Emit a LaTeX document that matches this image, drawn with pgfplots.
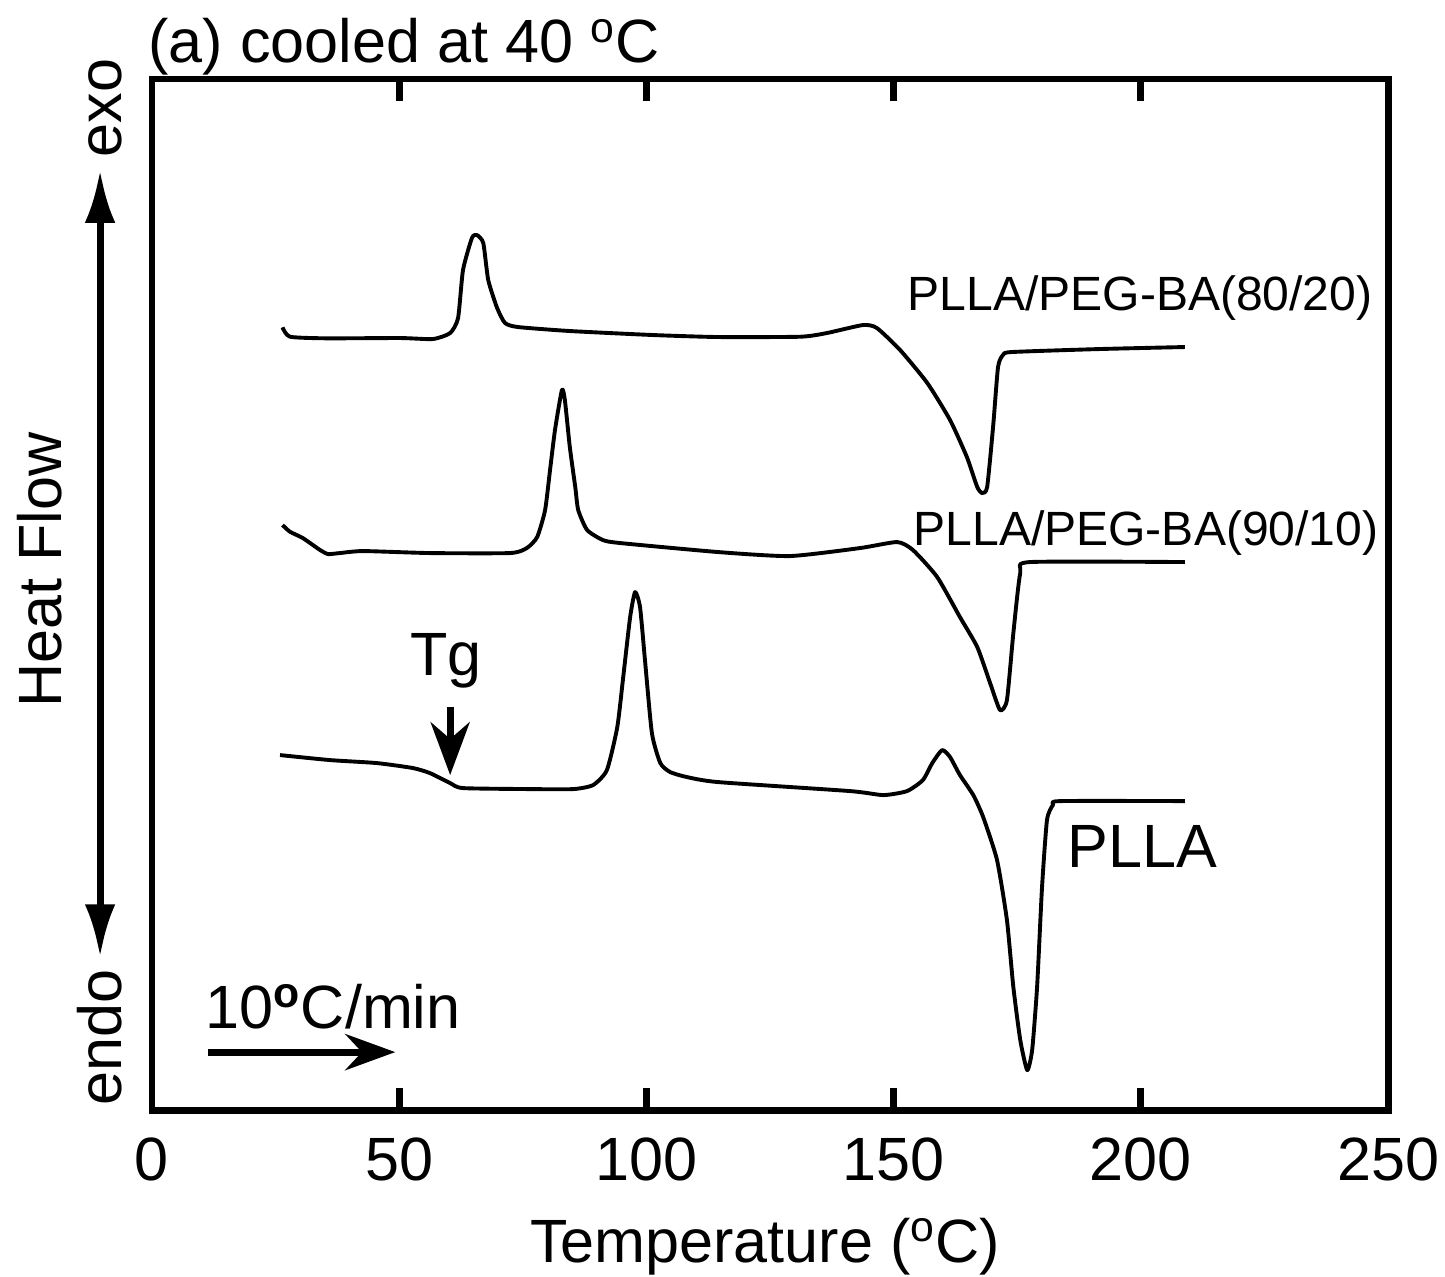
\documentclass[border=0pt]{standalone}
\usepackage{pgfplots}
\pgfplotsset{compat=1.18}
\usepackage{fontspec}
\setmainfont{Liberation Sans}
\usetikzlibrary{arrows.meta}
\begin{document}
\begin{tikzpicture}
\begin{axis}[
  scale only axis,
  width=444.96pt, height=371.16pt,
  xmin=0, xmax=250, ymin=0, ymax=1031,
  xtick={0,50,100,150,200,250},
  ytick=\empty,
  xtick pos=both,
  xticklabel pos=lower,
  tick align=inside,
  major tick length=8pt,
  every tick/.style={line width=2.5pt, black},
  axis line style={line width=2.5pt},
  /pgf/number format/assume math mode=true,
  xticklabel style={font=\fontsize{22}{26}\selectfont, yshift=-6.6pt},
  clip=false,
]
\addplot[black, line width=1.4pt, line join=round, smooth, tension=0.35] coordinates {
(26.4,782.7) (27.9,773.3) (35.3,771.7) (50.2,772) (56.8,771) (60.3,777)
(61.9,792) (62.9,840) (64.7,872) (65.7,875) (67.0,867) (68.0,830)
(69.8,802) (71.4,787) (74.0,783) (84.5,779) (101.3,775) (114.5,773)
(131.1,773.3) (136.5,777) (143.8,785) (146.6,782) (151.3,760) (156.8,727)
(161.4,690) (164.8,653) (166.9,623) (167.9,617) (168.9,623) (170.1,683)
(171.1,743) (172.1,755) (173.9,758) (191.7,761) (208.9,763)
};
\addplot[black, line width=1.4pt, line join=round, smooth, tension=0.35] coordinates {
(26.4,585) (27.9,578.3) (30.5,572) (34.0,560) (35.6,556) (38.0,557)
(42.7,559) (56.2,557) (72.4,557) (75.8,562) (77.9,573) (79.5,600)
(80.5,640) (81.5,680) (82.9,720) (83.5,710) (84.5,663) (85.6,623)
(86.2,600) (88.0,580) (91.2,570) (94.7,567) (114.5,558) (129.0,554)
(143.2,562) (150.7,568) (153.9,560) (158.8,533) (163.4,493) (166.9,463)
(169.5,427) (171.5,400) (172.9,410) (174.2,477) (175.6,537) (177.6,548)
(208.9,548)
};
\addplot[black, line width=1.4pt, line join=round, smooth, tension=0.35] coordinates {
(25.9,355) (36.0,350) (45.5,347) (52.8,342) (56.2,337) (60.3,327)
(62.9,322) (76.5,321) (85.2,321) (89.2,325) (92.0,340) (94.1,383)
(95.3,433) (96.7,493) (97.7,518) (98.7,503) (99.7,450) (101.1,377)
(102.8,347) (104.8,338) (108.2,333) (114.5,328) (141.2,319) (147.9,315)
(152.7,319) (155.9,330) (157.8,347) (159.8,360) (161.4,353) (163.4,335)
(166.1,315) (168.1,293) (170.9,250) (172.9,190) (174.2,123) (175.6,70)
(177.0,40) (178.0,60) (179.0,123) (180.0,223) (181.0,290) (182.2,305)
(183.7,309) (208.9,309)
};
\node[anchor=base west, font=\fontsize{22}{26}\selectfont, inner sep=0pt] at (axis cs:-0.8,1047) {(a) cooled at 40 \textsuperscript{o}C};
\node[rotate=90, font=\fontsize{22}{26}\selectfont, inner sep=0pt] at (axis cs:-22.7,540) {Heat Flow};
\node[rotate=90, font=\fontsize{22}{26}\selectfont, inner sep=0pt] at (axis cs:-9.5,1002) {exo};
\node[rotate=90, font=\fontsize{22}{26}\selectfont, inner sep=0pt] at (axis cs:-10.5,73) {endo};
\draw[line width=2.5pt, {Latex[length=19pt,width=11pt]}-{Latex[length=19pt,width=11pt]}] (axis cs:-10.5,940) -- (axis cs:-10.5,153);
\node[anchor=base, font=\fontsize{22}{26}\selectfont, inner sep=0pt] at (axis cs:59.4,435) {Tg};
\draw[line width=2.5pt, -{Stealth[length=19pt,width=14pt,inset=6pt]}] (axis cs:60.3,403) -- (axis cs:60.3,335);
\node[anchor=base west, font=\fontsize{22}{26}\selectfont, inner sep=0pt] at (axis cs:10.7,82) {10\textsuperscript{\textbf{o}}C/min};
\draw[line width=2.5pt, -{Stealth[length=18pt,width=13pt,inset=6pt]}] (axis cs:11.3,58) -- (axis cs:49.2,58);
\node[anchor=base west, font=\fontsize{17.3}{21}\selectfont, inner sep=0pt] at (axis cs:152.7,800) {PLLA/PEG-BA(80/20)};
\node[anchor=base west, font=\fontsize{17.3}{21}\selectfont, inner sep=0pt] at (axis cs:153.9,565) {PLLA/PEG-BA(90/10)};
\node[anchor=base west, font=\fontsize{22}{26}\selectfont, inner sep=0pt] at (axis cs:185.1,243) {PLLA};
\node[anchor=base, font=\fontsize{22}{26}\selectfont, inner sep=0pt] at (axis cs:124,-152) {Temperature (\textsuperscript{o}C)};
\coordinate (BL) at (axis cs:-30.74,-166);
\coordinate (TR) at (axis cs:261.5,1110);
\end{axis}
\pgfresetboundingbox
\path[use as bounding box] (BL) rectangle (TR);
\end{tikzpicture}
\end{document}
